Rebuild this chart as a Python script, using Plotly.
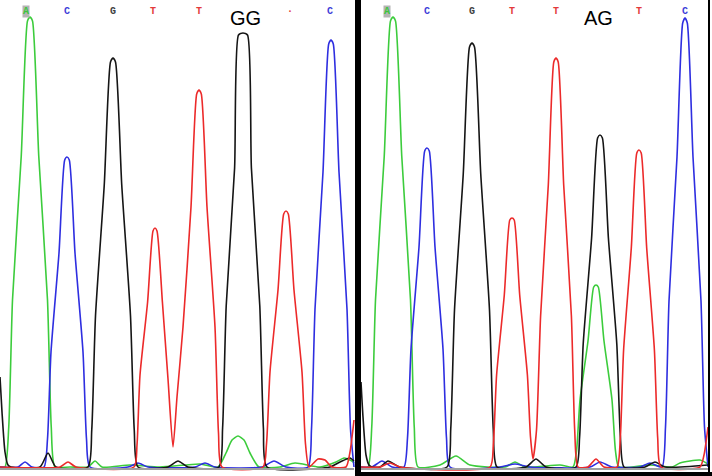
import plotly.graph_objects as go

# ---- data (scan position, signal intensity); None separates the two panels ----
GREEN_X = [0, 5, 8.75, 12.5, 21.25, 27.5, 30, 32.5, 38.75, 47.5, 51.25, 55, 70, 88, 95, 102, 130, 160, 200, 218, 226, 232, 238, 244, 250, 259, 280, 295, 320, 336, 344, 352, 354, None,
           361, 368, 371.75, 375.5, 384.25, 390.5, 393, 395.5, 401.75, 410.5, 414.25, 418, 440, 456, 470, 505, 515, 525, 560,
           573, 576.5, 580, 588, 593.7, 596, 598.3, 604, 612, 615.5, 619, 650, 672, 680, 700, 708]
GREEN_Y = [0, 0, 40, 167, 311, 446, 450, 446, 311, 167, 40, 0, 0, 0, 6, 0, 2, 0, 3, 0, 14, 27, 31, 27, 14, 0, 0, 4, 0, 5, 9, 6, 4, None,
           0, 0, 40, 167, 311, 446, 450, 446, 311, 167, 40, 0, 2, 11, 2, 0, 5, 0, 2,
           0, 16, 67, 126, 180, 182, 180, 126, 67, 16, 0, 2, 0, 4, 7, 3]

BLUE_X = [0, 18, 25, 32, 44, 47.5, 51, 59, 64.7, 67, 69.3, 75, 83, 86.5, 90, 128, 138, 148, 195, 205, 215, 262, 274, 286, 308, 311.5, 315, 323, 328.7, 331, 333.3, 339, 347, 350.5, 354, None,
          361, 372, 382, 392, 404, 407.5, 411, 419, 424.7, 427, 429.3, 435, 443, 446.5, 450, 500, 515, 530, 590, 600, 612, 640, 650, 662, 665.5, 669, 677, 682.7, 685, 687.3, 693, 701, 704.5, 708]
BLUE_Y = [0, 0, 5, 0, 0, 28, 115, 214, 307, 310, 307, 214, 115, 28, 0, 0, 4, 0, 0, 4, 0, 0, 6, 0, 0, 38, 158, 295, 423, 427, 423, 295, 158, 38, 0, None,
          0, 0, 6, 0, 0, 29, 118, 220, 316, 319, 316, 220, 118, 29, 0, 0, 3, 0, 0, 5, 0, 0, 4, 0, 40, 166, 310, 444, 449, 444, 310, 166, 40, 0]

BLACK_X = [0, 2, 5, 8, 11, 40, 48, 56, 88, 91.75, 95.5, 104.25, 110.5, 113, 115.5, 121.75, 130.5, 134.25, 138, 168, 178, 188, 219, 222.6, 226.2, 234.6, 238.5, 243, 247.5, 251.4, 259.8, 263.4, 267, 330, 340, 350, 354, None,
           361, 363, 366, 369, 372, 380, 388, 400, 447, 450.75, 454.5, 463.25, 469.5, 472, 474.5, 480.75, 489.5, 493.25, 497, 526, 536, 546,
           576, 579.6, 583.2, 591.6, 597.6, 600, 602.4, 608.4, 616.8, 620.4, 624, 645, 655, 665, 708]
BLACK_Y = [90, 55, 15, 2, 0, 0, 14, 0, 0, 37, 151, 282, 405, 409, 405, 282, 151, 37, 0, 0, 6, 0, 0, 39, 161, 299, 432, 434, 432, 299, 161, 39, 0, 0, 5, 9, 6, None,
           85, 50, 12, 2, 0, 0, 6, 0, 0, 38, 157, 293, 420, 424, 420, 293, 157, 38, 0, 0, 8, 0,
           0, 30, 123, 229, 329, 332, 329, 229, 123, 30, 0, 0, 5, 0, 2]

RED_X = [0, 60, 68, 76, 134, 137, 140, 147.6, 153, 155, 157, 162.4, 168, 173, 177, 183, 191, 196.7, 199, 201.3, 207, 215, 218.5, 222, 263, 266.5, 270, 278, 283.7, 286, 288.3, 294, 302, 305.5, 309, 318, 325, 332, 346, 350, 354, None,
         361, 380, 390, 400, 490, 493.3, 496.6, 504.3, 509.8, 512, 514.2, 519.7, 527.4, 530.5, 533, 536.5, 540.6, 548.3, 553.8, 556, 558.2, 563.7, 571.4, 574.7, 578, 588, 596, 604,
         617, 620.3, 623.6, 631.3, 636.8, 639, 641.2, 646.7, 654.4, 657.7, 661, 700, 704, 708]
RED_Y = [0, 0, 5, 0, 0, 22, 92, 165, 236, 239, 236, 165, 88, 20, 70, 140, 260, 373, 377, 373, 260, 140, 34, 0, 0, 23, 95, 177, 253, 256, 253, 177, 95, 23, 0, 8, 7, 0, 0, 15, 47, None,
         0, 0, 4, 0, 0, 22, 92, 172, 247, 249, 247, 172, 92, 30, 8, 37, 151, 282, 405, 409, 405, 282, 151, 37, 0, 0, 8, 0,
         0, 29, 117, 219, 314, 317, 314, 219, 117, 29, 0, 0, 12, 40]

# base calls shown above the traces (position, letter)
BASE_POS = [26, 67, 113, 153, 199, 290, 330, 387, 427, 472, 512, 556, 639, 685]
BASE_TXT = ["A", "C", "G", "T", "T", "·", "C", "A", "C", "G", "T", "T", "T", "C"]
GENO_POS = [245, 598]
GENO_TXT = ["GG", "AG"]

COLORS = {"A": "#3cc43c", "C": "#3b3bd8", "G": "#404040", "T": "#e33a3a", "·": "#e33a3a"}

fig = go.Figure()
for xs, ys, col in [(GREEN_X, GREEN_Y, "#3ccc3c"), (BLUE_X, BLUE_Y, "#2e2ee0"),
                    (BLACK_X, BLACK_Y, "#151515"), (RED_X, RED_Y, "#ec2a2a")]:
    fig.add_trace(go.Scatter(x=xs, y=ys, mode="lines", connectgaps=False,
                             line=dict(color=col, width=1.6, shape="spline", smoothing=0.6),
                             hoverinfo="skip", showlegend=False))

ann = []
for p, t in zip(BASE_POS, BASE_TXT):
    a = dict(x=p, y=1 - 11 / 476, xref="x", yref="paper", yanchor="middle", text="<b>%s</b>" % t, showarrow=False,
             font=dict(family="Liberation Mono", size=10, color=COLORS[t]))
    if t == "A":
        a.update(bgcolor="#b4b4b4", borderpad=0)
    ann.append(a)
for p, t in zip(GENO_POS, GENO_TXT):
    ann.append(dict(x=p, y=1 - 18 / 476, xref="x", yref="paper", yanchor="middle", text=t, showarrow=False,
                    font=dict(family="Liberation Sans", size=20, color="#000000")))

shapes = [
    dict(type="line", xref="x", yref="y", x0=0, x1=354, y0=-2, y1=-2, line=dict(color="#a0a0a0", width=2)),
    dict(type="line", xref="x", yref="y", x0=361, x1=708, y0=-2, y1=-2, line=dict(color="#a0a0a0", width=2)),
    dict(type="rect", xref="x", yref="y", x0=361, x1=712, y0=-9, y1=-5, fillcolor="#000", line=dict(width=0)),
    dict(type="rect", xref="x", yref="paper", x0=355, x1=361, y0=0, y1=1, fillcolor="#000", line=dict(width=0)),
    dict(type="rect", xref="x", yref="paper", x0=708, x1=710, y0=0, y1=1, fillcolor="#000", line=dict(width=0)),
]

fig.update_layout(width=712, height=476, autosize=False, margin=dict(l=0, r=0, t=0, b=0),
                  paper_bgcolor="white", plot_bgcolor="white", annotations=ann, shapes=shapes,
                  xaxis=dict(range=[0, 712], visible=False, fixedrange=True),
                  yaxis=dict(range=[-9, 467], visible=False, fixedrange=True))

fig.write_html("out.html", config={"displayModeBar": False},
               post_script="document.body.style.margin='0';")
